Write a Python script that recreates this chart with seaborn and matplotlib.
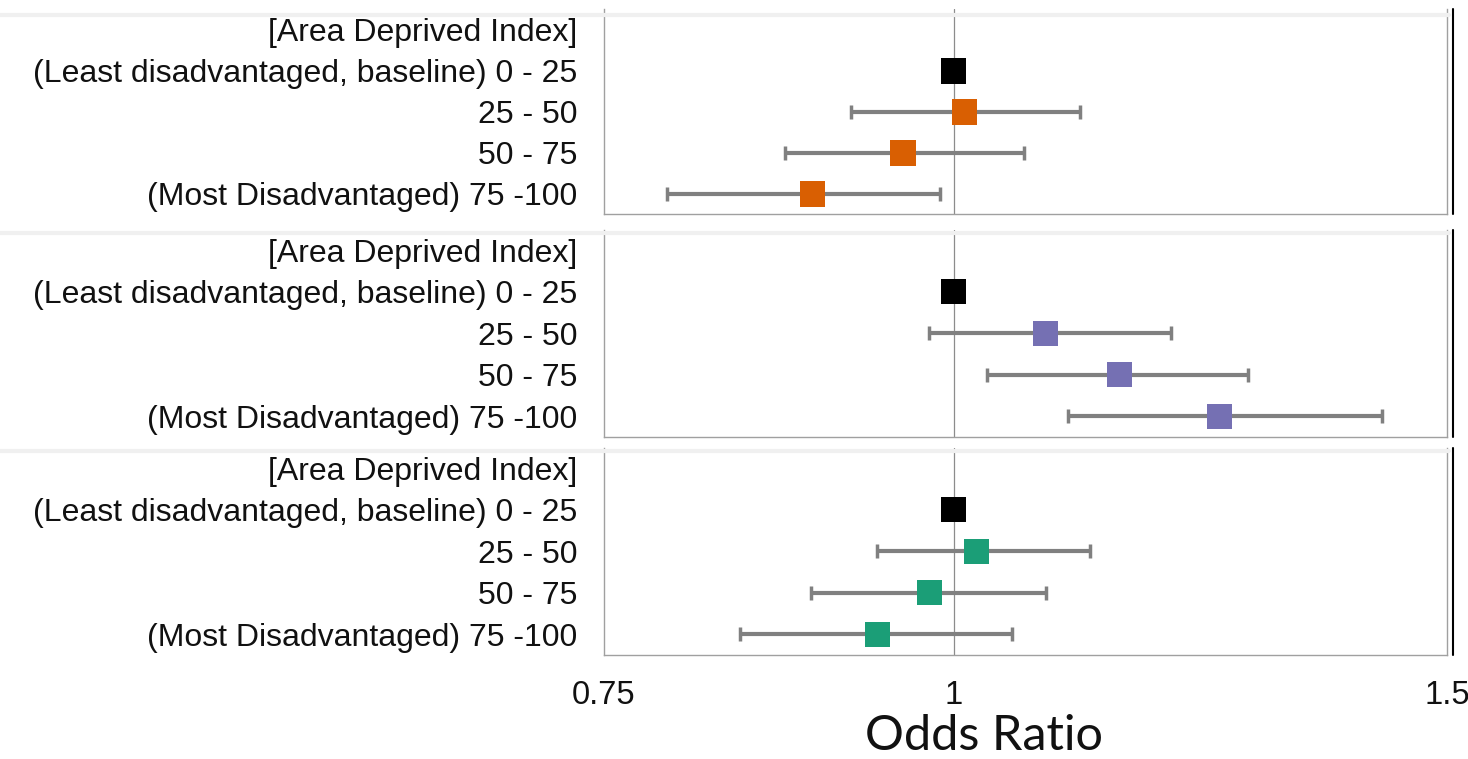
import numpy as np
import pandas as pd
import matplotlib
matplotlib.use("Agg")
import matplotlib.pyplot as plt
from matplotlib.lines import Line2D
import seaborn as sns

# ---- data ----
row_labels = ["[Area Deprived Index]",
              "(Least disadvantaged, baseline) 0 - 25",
              "25 - 50",
              "50 - 75",
              "(Most Disadvantaged) 75 -100"]

p1_or = [1.000, 1.009, 0.959, 0.890]
p1_lo = [1.000, 0.919, 0.870, 0.790]
p1_hi = [1.000, 1.109, 1.059, 0.989]

p2_or = [1.000, 1.078, 1.146, 1.244]
p2_lo = [1.000, 0.980, 1.028, 1.098]
p2_hi = [1.000, 1.195, 1.274, 1.422]

p3_or = [1.000, 1.019, 0.980, 0.939]
p3_lo = [1.000, 0.939, 0.889, 0.839]
p3_hi = [1.000, 1.118, 1.079, 1.049]

panel_colors = ["#D95F02", "#7570B3", "#1B9E77"]
x_ticks = [0.75, 1, 1.5]
x_ticklabels = ["0.75", "1", "1.5"]
x_label = "Odds Ratio"

panels = [(p1_or, p1_lo, p1_hi), (p2_or, p2_lo, p2_hi), (p3_or, p3_lo, p3_hi)]

sns.set_theme(style="white")
plt.rcParams['font.family'] = ['Liberation Sans', 'DejaVu Sans']

W, H = 1468, 759
fig = plt.figure(figsize=(W / 100, H / 100), dpi=100)

# panel geometry in pixels: (top, bottom)
panel_px = [(9.5, 214.5), (229.5, 437.0), (447.5, 655.0)]
left_px, right_px = 604, 1447
band_px = [15, 233, 451]

for i, ((orv, lo, hi), (top, bot)) in enumerate(zip(panels, panel_px)):
    ax = fig.add_axes([left_px / W, 1 - bot / H, (right_px - left_px) / W, (bot - top) / H])
    rows = list(range(1, 5))
    df = pd.DataFrame({"row": rows, "or": orv, "lo": lo, "hi": hi,
                       "kind": ["base"] + ["est"] * 3})
    ax.axvline(1, color="#8c8c8c", lw=0.9, zorder=1)
    est = df[df.kind == "est"]
    ax.errorbar(est["or"], est["row"],
                xerr=[est["or"] - est["lo"], est["hi"] - est["or"]],
                fmt="none", ecolor="#808080", elinewidth=3, capsize=5,
                capthick=2.5, zorder=2)
    sns.scatterplot(data=df, x="or", y="row", hue="kind",
                    palette={"base": "black", "est": panel_colors[i]},
                    marker="s", s=330, edgecolor="none", legend=False,
                    ax=ax, zorder=3)
    ax.set_xscale("log")
    ax.set_xlim(0.75, 1.5)
    ax.set_ylim(4.5, -0.5)
    ax.set_yticks(range(5))
    ax.set_yticklabels(row_labels, fontsize=23, color="#111111")
    ax.tick_params(axis="y", length=0, pad=19)
    ax.set_ylabel("")
    ax.minorticks_off()
    ax.set_xticks(x_ticks)
    if i == 2:
        ax.set_xticklabels(x_ticklabels, fontsize=23.5, color="#111111")
        ax.tick_params(axis="x", length=0, pad=18)
        ax.set_xlabel(x_label, fontsize=35, family=["Lato", "DejaVu Sans"],
                      fontweight="normal", color="#111111")
        ax.xaxis.set_label_coords(0.451, -0.285)
    else:
        ax.set_xticklabels([])
        ax.tick_params(axis="x", length=0)
        ax.set_xlabel("")
    for s in ["left", "bottom", "right"]:
        ax.spines[s].set_color("#a0a0a0")
        ax.spines[s].set_linewidth(1.0)
    ax.spines["top"].set_visible(False)
    # black vertical rule right of each panel
    ax.add_line(Line2D([1.007, 1.007], [0, 1], transform=ax.transAxes,
                       color="black", lw=1.5, clip_on=False))

# light grey separator bands
for y in band_px:
    fig.add_artist(Line2D([0, (right_px + 2) / W], [1 - y / H, 1 - y / H],
                          transform=fig.transFigure, color="#f0f0f0", lw=3))

fig.savefig("out.png", dpi=100, facecolor="white")
